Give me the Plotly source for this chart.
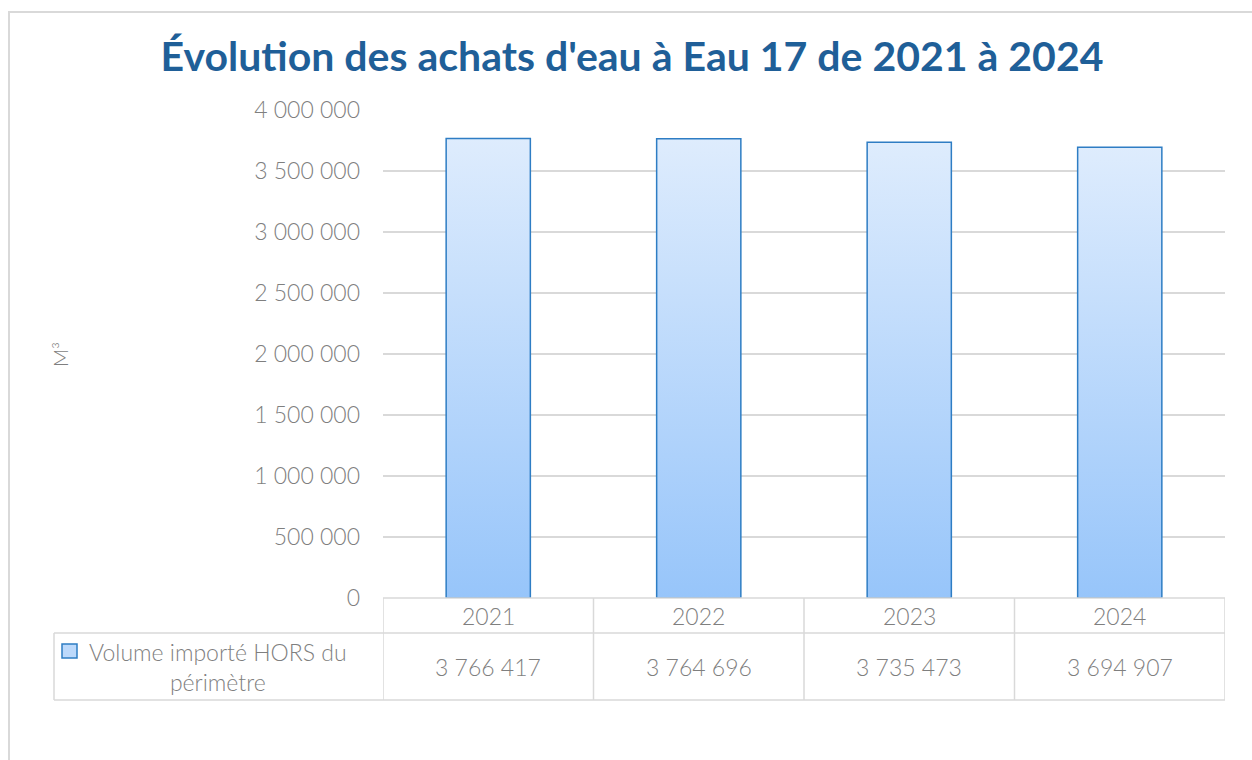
import plotly.graph_objects as go

years = ["2021", "2022", "2023", "2024"]
volumes = [3766417, 3764696, 3735473, 3694907]
series_name = "Volume importé HORS du<br>périmètre"
y_ticks = list(range(0, 4000001, 500000))

W, H = 1252, 760
L, R, T, B = 383, 1225, 110, 598
ROW1, ROW2 = 633, 700

FONT = "Lato"
GREY = "#7f7f7f"
LINE = "#d9d9d9"
BORDER = "#2e7dc4"
TOP_C = "#deecfd"
BOT_C = "#97c5fa"
BAR_W = 0.4


def px_x(p):
    return (p - L) / (R - L)


def px_y(p):
    return (B - p) / (B - T)


def fmt(v):
    return f"{v:,}".replace(",", " ")


txt_font = dict(family=FONT, size=23, color=GREY, weight=300)

fig = go.Figure()

for i, v in enumerate(volumes):
    fig.add_trace(go.Scatter(
        x=[i - BAR_W / 2, i - BAR_W / 2, i + BAR_W / 2, i + BAR_W / 2, i - BAR_W / 2],
        y=[0, v, v, 0, 0],
        mode="lines",
        fill="toself",
        fillgradient=dict(type="vertical", colorscale=[[0, BOT_C], [1, TOP_C]]),
        line=dict(color=BORDER, width=1.5),
        hoverinfo="skip",
        showlegend=False,
    ))

shapes = []
# outer chart border
shapes.append(dict(type="rect", xref="paper", yref="paper",
                   x0=px_x(9), x1=px_x(1262), y0=px_y(12), y1=px_y(775),
                   line=dict(color=LINE, width=2), layer="below"))
# data table
shapes.append(dict(type="line", xref="paper", yref="paper",
                   x0=0, x1=1, y0=0, y1=0, line=dict(color=LINE, width=1.5)))
for yy in (ROW1, ROW2):
    shapes.append(dict(type="line", xref="paper", yref="paper",
                       x0=px_x(54), x1=1, y0=px_y(yy), y1=px_y(yy),
                       line=dict(color=LINE, width=1.5)))
shapes.append(dict(type="line", xref="paper", yref="paper",
                   x0=px_x(54), x1=px_x(54), y0=px_y(ROW1), y1=px_y(ROW2),
                   line=dict(color=LINE, width=1.5)))
for k in range(len(years) + 1):
    shapes.append(dict(type="line", xref="x", yref="paper",
                       x0=k - 0.5, x1=k - 0.5, y0=0, y1=px_y(ROW2),
                       line=dict(color=LINE, width=1.5)))
# legend key
shapes.append(dict(type="rect", xref="paper", yref="paper",
                   x0=px_x(62), x1=px_x(77), y0=px_y(644), y1=px_y(658),
                   fillcolor="#bcd9fb", line=dict(color=BORDER, width=1.5)))

annotations = []
for i, (yr, v) in enumerate(zip(years, volumes)):
    annotations.append(dict(x=i, y=px_y((B + ROW1) / 2), xref="x", yref="paper",
                            xanchor="center", yanchor="middle",
                            text=yr, showarrow=False, font=txt_font))
    annotations.append(dict(x=i, y=px_y((ROW1 + ROW2) / 2), xref="x", yref="paper",
                            xanchor="center", yanchor="middle",
                            text=fmt(v), showarrow=False, font=txt_font))
annotations.append(dict(x=px_x(218), y=px_y((ROW1 + ROW2) / 2), xref="paper", yref="paper",
                        xanchor="center", yanchor="middle",
                        text=series_name, showarrow=False, align="center", font=txt_font))
annotations.append(dict(x=px_x(60), y=px_y(355), xref="paper", yref="paper",
                        xanchor="center", yanchor="middle",
                        text="M³", showarrow=False, textangle=-90,
                        font=dict(family=FONT, size=20, color=GREY, weight=300)))

fig.update_layout(
    width=W, height=H,
    margin=dict(l=L, r=W - R, t=T, b=H - B, autoexpand=False),
    paper_bgcolor="white", plot_bgcolor="white",
    separators=", ",
    title=dict(text="<b>Évolution des achats d'eau à Eau 17 de 2021 à 2024</b>",
               x=632 / W, xref="container", xanchor="center",
               y=1 - 57 / H, yref="container", yanchor="middle",
               font=dict(family=FONT, size=41, color="#1f5f98")),
    xaxis=dict(range=[-0.5, len(years) - 0.5], showticklabels=False, showgrid=False,
               zeroline=False, showline=False, fixedrange=True),
    yaxis=dict(range=[0, 4000000], tickvals=y_ticks, tickformat=",d",
               showgrid=True, gridcolor=LINE, gridwidth=1.5, zeroline=False,
               showline=False, ticks="", ticklabelstandoff=22,
               tickfont=txt_font),
    shapes=shapes,
    annotations=annotations,
    showlegend=False,
)

fig.write_html("out.html", config={"displayModeBar": False},
               post_script="document.body.style.margin='0';")
